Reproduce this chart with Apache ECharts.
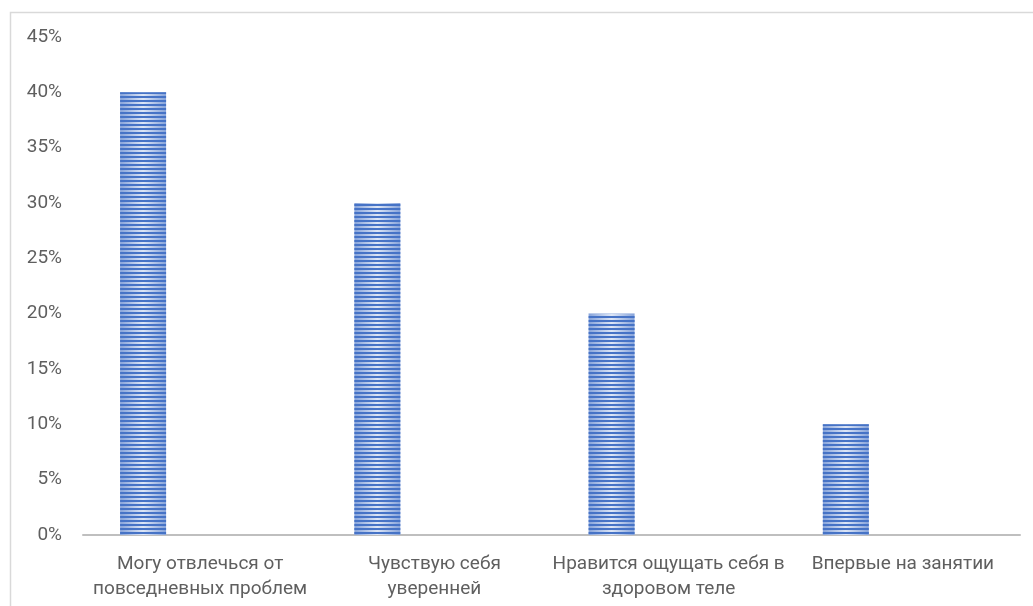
<!DOCTYPE html>
<html>
<head>
<meta charset="utf-8">
<style>
  html, body { margin: 0; padding: 0; background: #ffffff; }
  #chart { width: 1033px; height: 606px; }
</style>
<script src="https://cdn.jsdelivr.net/npm/echarts@6/dist/echarts.min.js"></script>
</head>
<body>
<div id="chart"></div>
<script>
// Answers to "why I attend" and their shares
const categories = [
  'Могу отвлечься от\nповседневных проблем',
  'Чувствую себя\nуверенней',
  'Нравится ощущать себя в\nздоровом теле',
  'Впервые на занятии'
];
const shares = [0.40, 0.30, 0.20, 0.10];
const emptySeries = [];           // second column slot, left blank
const yTicks = { min: 0, max: 0.45, step: 0.05 };

const chart = echarts.init(document.getElementById('chart'), null, { renderer: 'canvas' });

const labelFont = 'Roboto, "Open Sans", "Liberation Sans", sans-serif';

chart.setOption({
  animation: false,
  backgroundColor: '#ffffff',
  graphic: [{
    type: 'rect',
    left: 8, top: 10,
    shape: { width: 1200, height: 800 },
    style: { fill: 'none', stroke: '#d9d9d9', lineWidth: 1.5 },
    silent: true
  }],
  grid: { left: 83, right: 13, top: 37, bottom: 71, containLabel: false },
  xAxis: {
    type: 'category',
    data: categories,
    axisLine: { show: true, lineStyle: { color: '#bfbfbf', width: 2 } },
    axisTick: { show: false },
    axisLabel: {
      color: '#5f5f5f',
      fontFamily: labelFont,
      fontSize: 19,
      lineHeight: 25,
      margin: 17,
      interval: 0
    }
  },
  yAxis: {
    type: 'value',
    min: yTicks.min,
    max: yTicks.max,
    interval: yTicks.step,
    axisLine: { show: false },
    axisTick: { show: false },
    splitLine: { show: false },
    axisLabel: {
      color: '#5f5f5f',
      fontFamily: labelFont,
      fontSize: 19,
      margin: 21,
      formatter: v => Math.round(v * 100) + '%'
    }
  },
  series: [
    {
      name: 'Доля',
      type: 'bar',
      data: shares,
      barWidth: 46,
      barGap: '148%',
      itemStyle: {
        color: {
          type: 'linear', x: 0, y: 0, x2: 1, y2: 0,
          colorStops: [
            { offset: 0, color: '#86a3da' },
            { offset: 0.5, color: '#dde6f6' },
            { offset: 1, color: '#86a3da' }
          ]
        },
        decal: {
          symbol: 'rect',
          symbolSize: 1,
          dashArrayX: [1, 0],
          dashArrayY: [2, 2],
          rotation: 0,
          color: '#4673c6'
        }
      }
    },
    {
      name: 'Ряд 2',
      type: 'bar',
      data: emptySeries,
      barWidth: 46
    }
  ]
});
</script>
</body>
</html>
